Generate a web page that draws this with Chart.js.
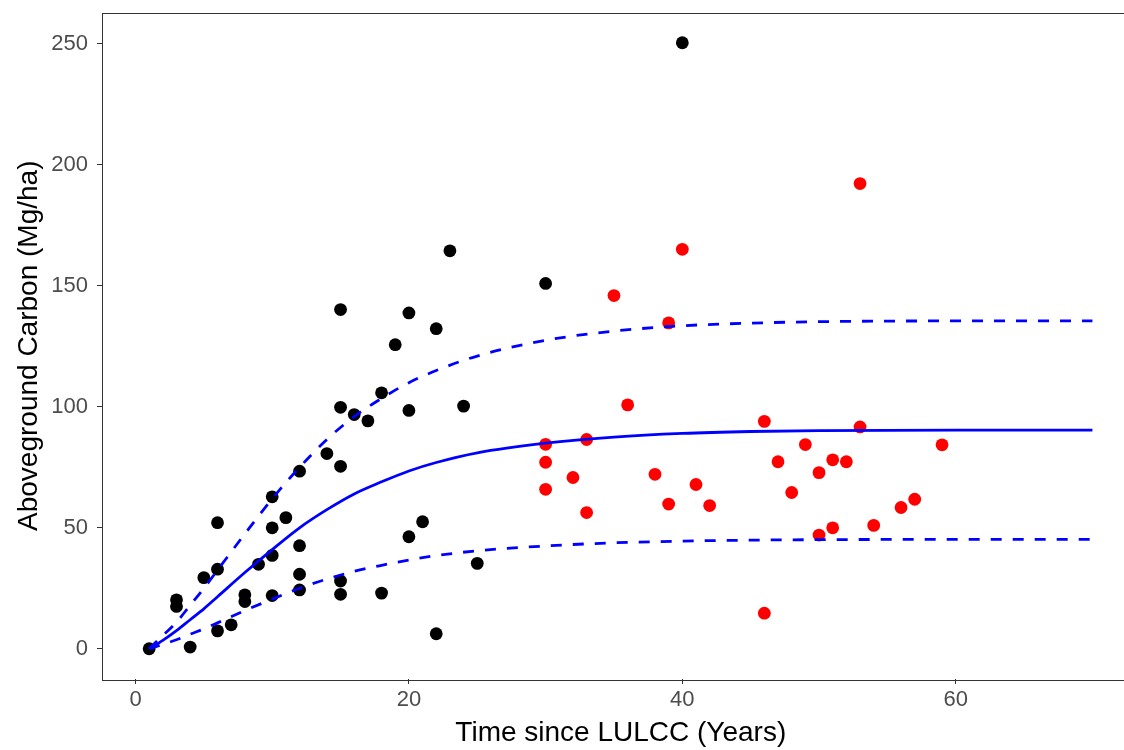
<!DOCTYPE html>
<html>
<head>
<meta charset="utf-8">
<title>Aboveground carbon recovery</title>
<script src="https://cdn.jsdelivr.net/npm/chart.js@4.4.1/dist/chart.umd.min.js"></script>
<style>
  html, body { margin: 0; padding: 0; background: #fff; overflow: hidden; }
  canvas { display: block; }
</style>
</head>
<body>
<canvas id="carbonChart" width="1146" height="750"></canvas>
<script>
// ===== Plot data =====

// plots sampled before year 30 (black) and the older plots (red): [years, Mg/ha]
const youngPlots = [
  [1, 0], [3, 20.2], [3, 17.5], [4, 0.7], [5, 29.4], [6, 52.1], [6, 32.9], [6, 7.4],
  [7, 9.9], [8, 22.3], [8, 19.5], [9, 34.9], [10, 62.8], [10, 50], [10, 38.6], [10, 22],
  [11, 54.2], [12, 73.4], [12, 42.6], [12, 30.8], [12, 24.3], [14, 80.7], [15, 140.2],
  [15, 99.8], [15, 75.4], [15, 28], [15, 22.5], [16, 96.8], [17, 94.2], [18, 105.8],
  [18, 23], [19, 125.7], [20, 138.8], [20, 98.5], [20, 46.3], [21, 52.5], [22, 132.3],
  [22, 6.2], [23, 164.5], [24, 100.3], [25, 35.3], [30, 151], [40, 250.5]
];
const oldPlots = [
  [30, 84.5], [30, 77.1], [30, 65.9], [32, 70.8], [33, 86.5], [33, 56.3], [35, 146],
  [36, 100.8], [38, 72.1], [39, 134.7], [39, 59.8], [40, 165.1], [41, 67.9], [42, 59.2],
  [46, 94], [46, 14.7], [47, 77.3], [48, 64.6], [49, 84.4], [50, 72.8], [50, 47],
  [51, 78.1], [51, 50], [52, 77.3], [53, 192.3], [53, 91.7], [54, 51], [56, 58.4],
  [57, 61.8], [59, 84.3]
];

// fitted growth curve and its upper / lower bands
const curveYears = [1, 2, 3, 4, 5, 6, 8, 10, 12, 14, 16, 18, 20, 22, 25, 30, 35, 40, 45, 50, 60, 70];
const fitMid   = [0, 3.5, 7.5, 12, 16.5, 21.5, 31.5, 41, 50, 57.5, 64, 69, 73.5, 77, 81, 85, 87.5, 89, 89.8, 90.2, 90.4, 90.4];
const fitUpper = [0, 5.5, 11, 18, 25, 32.5, 47.5, 62, 75, 86.5, 96, 103.5, 110, 115, 121, 127.5, 131.3, 133.5, 134.6, 135.2, 135.5, 135.5];
const fitLower = [0, 1.8, 3.7, 6, 8.2, 10.7, 15.8, 20.5, 25, 28.8, 32, 34.5, 36.7, 38.5, 40.5, 42.5, 43.8, 44.5, 44.9, 45.1, 45.2, 45.2];

const xTicks = [0, 20, 40, 60];
const yTicks = [0, 50, 100, 150, 200, 250];

// ===== Helpers =====

const toPoints = pairs => pairs.map(([x, y]) => ({ x, y }));
const curve = values => curveYears.map((x, i) => ({ x, y: values[i] }));

const FONT = "'Liberation Sans', Arial, Helvetica, sans-serif";
const BLUE = '#0000ff';

function lineSet(values, dashed) {
  return {
    type: 'line',
    data: curve(values),
    borderColor: BLUE,
    borderWidth: 2.8,
    borderDash: dashed ? [11, 11] : [],
    pointRadius: 0,
    fill: false,
    cubicInterpolationMode: 'monotone',
    order: 1
  };
}

function dotSet(pairs, color) {
  return {
    type: 'scatter',
    data: toPoints(pairs),
    backgroundColor: color,
    borderWidth: 0,
    pointRadius: 6.4,
    pointHoverRadius: 6.4,
    order: 2
  };
}

// panel frame around the plotting area
const panelFrame = {
  id: 'panelFrame',
  afterDraw(chart) {
    const { ctx, chartArea: a } = chart;
    ctx.save();
    ctx.strokeStyle = '#333333';
    ctx.lineWidth = 1;
    ctx.strokeRect(Math.round(a.left) + 0.5, Math.round(a.top) + 0.5,
      Math.round(a.right - a.left), Math.round(a.bottom - a.top));
    ctx.restore();
  }
};

// ===== Chart =====

new Chart(document.getElementById('carbonChart'), {
  data: {
    datasets: [
      dotSet(youngPlots, '#000000'),
      dotSet(oldPlots, '#ff0000'),
      lineSet(fitMid, false),
      lineSet(fitUpper, true),
      lineSet(fitLower, true)
    ]
  },
  options: {
    responsive: false,
    devicePixelRatio: 1,
    animation: false,
    layout: { padding: { top: 12.5, right: 0, bottom: 0, left: 0 } },
    plugins: { legend: { display: false }, tooltip: { enabled: false } },
    scales: {
      x: {
        type: 'linear',
        min: -2.45,
        max: 73.45,
        afterBuildTicks: axis => { axis.ticks = xTicks.map(v => ({ value: v })); },
        afterFit: axis => {
          axis.height = 71;
          axis.paddingLeft = 0;
          axis.paddingRight = 0;
        },
        grid: { drawOnChartArea: false, drawTicks: true, tickLength: 5, color: '#333333', lineWidth: 1 },
        border: { display: false },
        ticks: { color: '#4d4d4d', font: { family: FONT, size: 22 }, padding: 3, maxRotation: 0 },
        title: {
          display: true,
          text: 'Time since LULCC (Years)',
          color: '#000000',
          font: { family: FONT, size: 28 },
          padding: { top: 0, bottom: 0 }
        }
      },
      y: {
        type: 'linear',
        min: -12.5,
        max: 263,
        afterBuildTicks: axis => { axis.ticks = yTicks.map(v => ({ value: v })); },
        afterFit: axis => {
          axis.width = 102;
          axis.paddingTop = 0;
          axis.paddingBottom = 0;
        },
        grid: { drawOnChartArea: false, drawTicks: true, tickLength: 5, color: '#333333', lineWidth: 1 },
        border: { display: false },
        ticks: { color: '#4d4d4d', font: { family: FONT, size: 22 }, padding: 9 },
        title: {
          display: true,
          text: 'Aboveground Carbon (Mg/ha)',
          color: '#000000',
          font: { family: FONT, size: 28 },
          padding: { top: 12, bottom: 0 }
        }
      }
    }
  },
  plugins: [panelFrame]
});
</script>
</body>
</html>
